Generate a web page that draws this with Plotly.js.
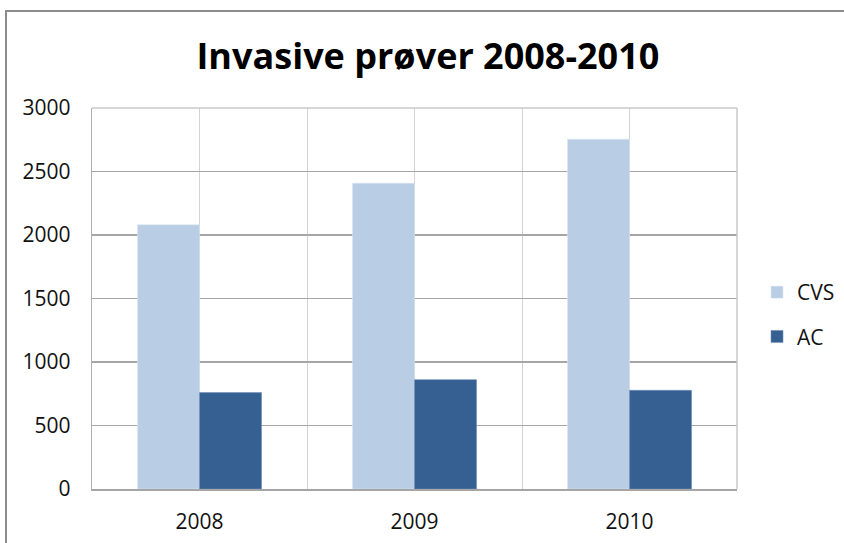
<!DOCTYPE html>
<html>
<head>
<meta charset="utf-8">
<script src="https://cdn.plot.ly/plotly-3.0.1.min.js"></script>
<style>
  html, body { margin: 0; padding: 0; overflow: hidden; background: #fff; }
  #wrap { position: relative; width: 844px; height: 543px; }
  #chart { width: 844px; height: 543px; }
  #frame { position: absolute; left: 5px; top: 10px; width: 900px; height: 600px;
           border-left: 2px solid #8c8c8c; border-top: 2px solid #8c8c8c; pointer-events: none; }
</style>
</head>
<body>
<div id="wrap">
  <div id="chart"></div>
  <div id="frame"></div>
</div>
<script>
const categories = ["2008", "2009", "2010"];
const cvsValues = [2080, 2408, 2754];
const acValues = [759, 861, 777];
const seriesNames = ["CVS", "AC"];
const yTicks = [0, 500, 1000, 1500, 2000, 2500, 3000];

const xIdx = categories.map((c, i) => i);
// grid lines at category boundaries and centers
const gridVals = [];
const gridText = [];
for (let i = 0; i < categories.length; i++) {
  gridVals.push(i - 0.5); gridText.push("");
  gridVals.push(i); gridText.push(categories[i]);
}
gridVals.push(categories.length - 0.5); gridText.push("");

const FONT = "Open Sans, Noto Sans, sans-serif";

const traces = [
  { type: "bar", name: seriesNames[0], x: xIdx, y: cvsValues, legendgroup: "a",
    marker: { color: "#b9cde5", line: { color: "#dbe5f1", width: 0.6 } }, hoverinfo: "y" },
  { type: "bar", name: seriesNames[1], x: xIdx, y: acValues, legendgroup: "b",
    marker: { color: "#376092", line: { color: "#6f8fb7", width: 0.6 } }, hoverinfo: "y" }
];

const layout = {
  width: 844, height: 543,
  margin: { l: 91.5, r: 107, t: 108, b: 53.5, pad: 0 },
  paper_bgcolor: "#ffffff", plot_bgcolor: "#ffffff",
  barmode: "group", bargap: 0.423, bargroupgap: 0,
  font: { family: FONT, size: 21, color: "#000" },
  title: { text: "<b>Invasive prøver 2008-2010</b>", font: { family: FONT, size: 36, color: "#000" },
           x: 0.507, xanchor: "center", xref: "container", y: 1 - 56 / 543, yanchor: "middle", yref: "container" },
  xaxis: {
    type: "linear", range: [-0.5, categories.length - 0.5],
    tickmode: "array", tickvals: gridVals, ticktext: gridText,
    showgrid: true, gridcolor: "#d3d3d3", gridwidth: 1,
    ticks: "", ticklabelstandoff: 13,
    showline: true, linecolor: "#a6a6a6", linewidth: 1.5, mirror: false,
    zeroline: false, tickfont: { family: FONT, size: 21, color: "#111" }, fixedrange: true
  },
  yaxis: {
    range: [0, 3000], tickmode: "array", tickvals: yTicks,
    showgrid: true, gridcolor: "#a6a6a6", gridwidth: 1.2,
    ticks: "", ticklabelstandoff: 16,
    showline: true, linecolor: "#b0b0b0", linewidth: 1.2, mirror: false,
    zeroline: false, tickfont: { family: FONT, size: 21, color: "#111" }, fixedrange: true
  },
  shapes: [
    { type: "line", xref: "paper", yref: "paper", x0: 0, x1: 1, y0: 1, y1: 1, line: { color: "#c8c8c8", width: 1.5 } },
    { type: "line", xref: "paper", yref: "paper", x0: 1, x1: 1, y0: 0, y1: 1, line: { color: "#c8c8c8", width: 1.5 } }
  ],
  showlegend: true,
  legend: {
    xref: "container", yref: "container",
    x: 757 / 844, xanchor: "left", y: 1 - 272 / 543, yanchor: "top",
    font: { family: FONT, size: 21, color: "#111" },
    traceorder: "grouped", tracegroupgap: 14,
    bgcolor: "rgba(0,0,0,0)", borderwidth: 0
  }
};

Plotly.newPlot("chart", traces, layout, { displayModeBar: false, staticPlot: true });
</script>
</body>
</html>
